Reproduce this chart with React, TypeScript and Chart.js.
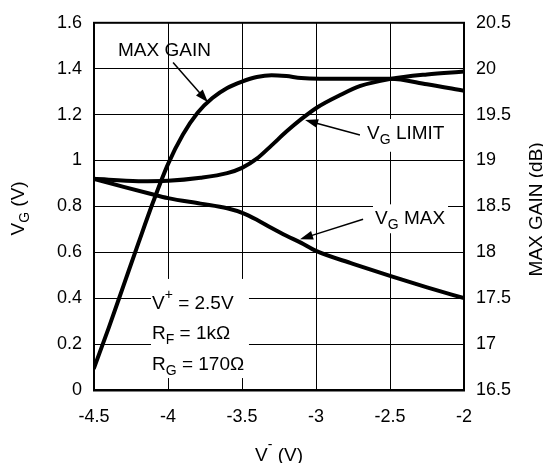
import React, { useEffect, useRef } from 'react';
import { Chart, registerables } from 'chart.js';

Chart.register(...registerables);

const FONT = '"Liberation Sans", Arial, Helvetica, sans-serif';

// X axis (V-) ticks
const xTicks = [-4.5, -4, -3.5, -3, -2.5, -2];

// MAX GAIN (dB), right axis
const maxGainV = [-4.5, -4.4, -4.3, -4.2, -4.1, -4.0, -3.9, -3.8, -3.7, -3.6, -3.5, -3.4, -3.3, -3.2, -3.1, -2.8, -2.5, -2.25, -2.0];
const maxGainDb = [16.74, 17.18, 17.64, 18.1, 18.55, 18.96, 19.28, 19.52, 19.68, 19.79, 19.86, 19.91, 19.93, 19.92, 19.9, 19.89, 19.89, 19.83, 19.76];

// VG LIMIT (V), left axis
const vgLimitV = [-4.5, -4.2, -4.0, -3.78, -3.6, -3.5, -3.4, -3.3, -3.2, -3.1, -2.99, -2.84, -2.7, -2.5, -2.25, -2.0];
const vgLimit = [0.92, 0.91, 0.912, 0.925, 0.945, 0.968, 1.008, 1.066, 1.126, 1.18, 1.232, 1.284, 1.325, 1.355, 1.375, 1.388];

// VG MAX (V), left axis
const vgMaxV = [-4.5, -4.3, -4.12, -4.0, -3.78, -3.6, -3.49, -3.4, -3.3, -3.2, -3.1, -3.0, -2.75, -2.5, -2.25, -2.0];
const vgMax = [0.92, 0.885, 0.855, 0.836, 0.812, 0.792, 0.77, 0.742, 0.706, 0.672, 0.641, 0.606, 0.55, 0.497, 0.447, 0.4];

const fmt = (v: number) => String(Number(Number(v).toFixed(2)));

type Part = { t: string; size?: number; dy?: number };

function richWidth(ctx: CanvasRenderingContext2D, parts: Part[]) {
  let w = 0;
  for (const p of parts) {
    ctx.font = `${p.size ?? 19}px ${FONT}`;
    w += ctx.measureText(p.t).width;
  }
  return w;
}

function drawRich(ctx: CanvasRenderingContext2D, parts: Part[], x: number, y: number) {
  let cx = x;
  ctx.textBaseline = 'alphabetic';
  ctx.textAlign = 'left';
  for (const p of parts) {
    ctx.font = `${p.size ?? 19}px ${FONT}`;
    ctx.fillText(p.t, cx, y + (p.dy ?? 0));
    cx += ctx.measureText(p.t).width;
  }
}

function arrow(ctx: CanvasRenderingContext2D, x1: number, y1: number, x2: number, y2: number) {
  const ang = Math.atan2(y2 - y1, x2 - x1);
  const L = 13;
  const H = 4.5;
  ctx.beginPath();
  ctx.moveTo(x1, y1);
  ctx.lineTo(x2 - Math.cos(ang) * (L - 2), y2 - Math.sin(ang) * (L - 2));
  ctx.lineWidth = 1.5;
  ctx.strokeStyle = '#000';
  ctx.stroke();
  ctx.beginPath();
  ctx.moveTo(x2, y2);
  ctx.lineTo(x2 - Math.cos(ang) * L + Math.sin(ang) * H, y2 - Math.sin(ang) * L - Math.cos(ang) * H);
  ctx.lineTo(x2 - Math.cos(ang) * L - Math.sin(ang) * H, y2 - Math.sin(ang) * L + Math.cos(ang) * H);
  ctx.closePath();
  ctx.fillStyle = '#000';
  ctx.fill();
}

const annotPlugin = {
  id: 'annot',
  afterDatasetsDraw(chart: any) {
    const ctx: CanvasRenderingContext2D = chart.ctx;
    const xs = chart.scales.x;
    const ys = chart.scales.y;
    const px = (v: number) => xs.getPixelForValue(v);
    const py = (v: number) => ys.getPixelForValue(v);
    const { left, right, top, bottom } = chart.chartArea;
    ctx.save();

    // white boxes behind labels
    ctx.fillStyle = '#fff';
    const box = (x1: number, y1: number, x2: number, y2: number) =>
      ctx.fillRect(px(x1), py(y1), px(x2) - px(x1), py(y2) - py(y1));
    box(-4.115, 0.484, -3.453, 0.052);
    box(-2.689, 1.181, -2.101, 1.038);
    box(-2.615, 0.809, -2.108, 0.683);

    // frame
    ctx.strokeStyle = '#000';
    ctx.lineWidth = 2;
    ctx.strokeRect(left, top, right - left, bottom - top);
    ctx.beginPath();
    ctx.moveTo(left - 1, bottom + 1);
    ctx.lineTo(right + 1, bottom + 1);
    ctx.lineWidth = 1;
    ctx.stroke();

    ctx.fillStyle = '#000';
    // MAX GAIN label
    drawRich(ctx, [{ t: 'MAX GAIN' }], px(-4.338), py(1.457));
    arrow(ctx, px(-3.966), py(1.427), px(-3.73), py(1.254));

    // VG LIMIT
    drawRich(ctx, [{ t: 'V' }, { t: 'G', size: 14, dy: 5 }, { t: ' LIMIT' }], px(-2.655), py(1.094));
    arrow(ctx, px(-2.703), py(1.111), px(-3.074), py(1.176));

    // VG MAX
    drawRich(ctx, [{ t: 'V' }, { t: 'G', size: 14, dy: 5 }, { t: ' MAX' }], px(-2.601), py(0.723));
    arrow(ctx, px(-2.682), py(0.744), px(-3.108), py(0.657));

    // conditions
    drawRich(ctx, [{ t: 'V' }, { t: '+', size: 14, dy: -10 }, { t: ' = 2.5V' }], px(-4.108), py(0.355));
    drawRich(ctx, [{ t: 'R' }, { t: 'F', size: 14, dy: 5 }, { t: ' = 1kΩ' }], px(-4.108), py(0.221));
    drawRich(ctx, [{ t: 'R' }, { t: 'G', size: 14, dy: 5 }, { t: ' = 170Ω' }], px(-4.108), py(0.086));

    // axis titles
    const midY = (top + bottom) / 2;
    // left
    const lParts: Part[] = [{ t: 'V' }, { t: 'G', size: 14, dy: 5 }, { t: ' (V)' }];
    ctx.save();
    ctx.translate(24, midY + 2);
    ctx.rotate(-Math.PI / 2);
    drawRich(ctx, lParts, -richWidth(ctx, lParts) / 2, 0);
    ctx.restore();
    // right
    const rParts: Part[] = [{ t: 'MAX GAIN (dB)' }];
    ctx.save();
    ctx.translate(542, midY + 3);
    ctx.rotate(-Math.PI / 2);
    drawRich(ctx, rParts, -richWidth(ctx, rParts) / 2, 0);
    ctx.restore();
    // bottom
    const bParts: Part[] = [{ t: 'V' }, { t: '-', size: 14, dy: -12 }, { t: ' (V)' }];
    const cx = (left + right) / 2;
    drawRich(ctx, bParts, cx - richWidth(ctx, bParts) / 2, 461);

    ctx.restore();
  },
};

export default function App() {
  const ref = useRef<HTMLCanvasElement | null>(null);
  useEffect(() => {
    if (!ref.current) return;
    const tickFont = { size: 18, family: FONT };
    const line = (label: string, xs: number[], ys: number[], axis: string) => ({
      label,
      data: xs.map((x, i) => ({ x, y: ys[i] })),
      yAxisID: axis,
      borderColor: '#000',
      borderWidth: 4,
      pointRadius: 0,
      cubicInterpolationMode: 'monotone',
      borderCapStyle: 'round',
      borderJoinStyle: 'round',
      fill: false,
    });
    const chart = new Chart(ref.current, {
      type: 'line',
      data: {
        datasets: [
          line('MAX GAIN', maxGainV, maxGainDb, 'y2'),
          line('VG LIMIT', vgLimitV, vgLimit, 'y'),
          line('VG MAX', vgMaxV, vgMax, 'y'),
        ],
      },
      options: {
        animation: false,
        responsive: false,
        events: [],
        layout: { padding: { top: 20, left: 0, right: 0, bottom: 0 } },
        plugins: { legend: { display: false }, tooltip: { enabled: false }, title: { display: false } },
        scales: {
          x: {
            type: 'linear',
            min: -4.5,
            max: -2,
            afterBuildTicks: (s: any) => { s.ticks = xTicks.map((v) => ({ value: v })); },
            ticks: { color: '#000', font: tickFont, padding: 16, maxRotation: 0, callback: (v: any) => fmt(v) },
            grid: { color: '#000', lineWidth: 1, drawTicks: false },
            border: { display: false },
            afterFit: (s: any) => { s.height = 73; },
          },
          y: {
            position: 'left',
            min: 0,
            max: 1.6,
            ticks: { stepSize: 0.2, color: '#000', font: tickFont, padding: 12, callback: (v: any) => fmt(v) },
            grid: { color: '#000', lineWidth: 1, drawTicks: false },
            border: { display: false },
            afterFit: (s: any) => { s.width = 94; },
          },
          y2: {
            position: 'right',
            min: 16.5,
            max: 20.5,
            ticks: { stepSize: 0.5, color: '#000', font: tickFont, padding: 12, callback: (v: any) => fmt(v) },
            grid: { display: false, drawTicks: false },
            border: { display: false },
            afterFit: (s: any) => { s.width = 79; },
          },
        },
      },
      plugins: [annotPlugin],
    } as any);
    return () => chart.destroy();
  }, []);
  return (
    <div style={{ position: 'fixed', left: 0, top: 0, width: 543, height: 463, background: '#fff' }}>
      <canvas ref={ref} width={543} height={463} style={{ width: 543, height: 463 }} />
    </div>
  );
}
